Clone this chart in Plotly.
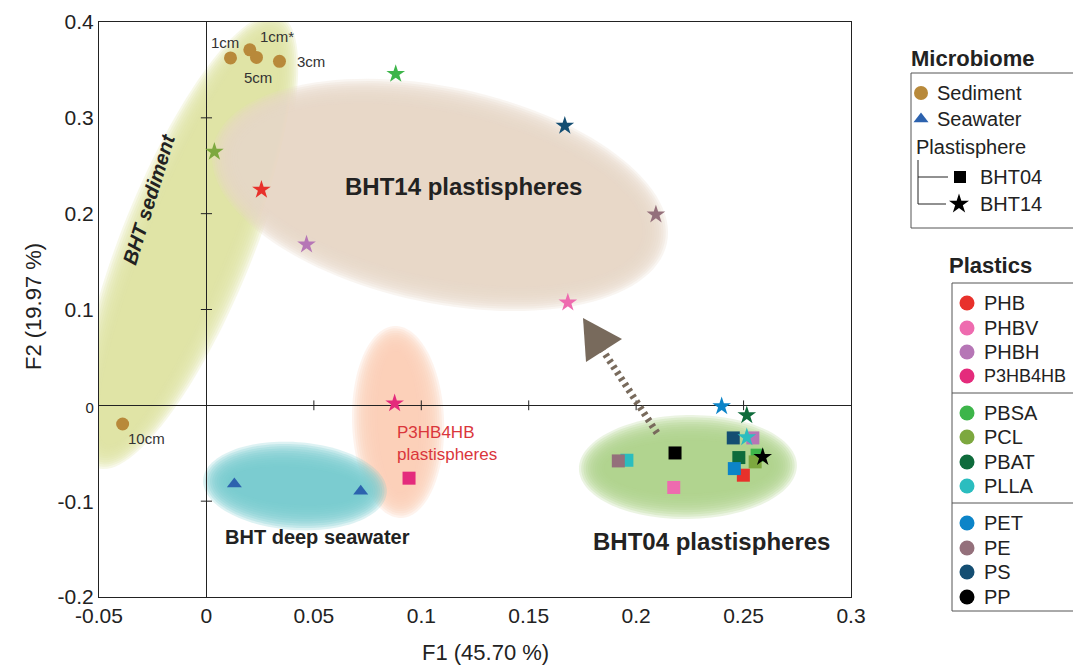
import numpy as np
import plotly.graph_objects as go

W, H = 1073, 669
PX_L, PX_R, PX_T, PX_B = 99, 851, 22, 597
X_RANGE = [-0.05, 0.3]
Y_RANGE = [-0.2, 0.4]
SX = (PX_R - PX_L) / (X_RANGE[1] - X_RANGE[0])
SY = (PX_B - PX_T) / (Y_RANGE[1] - Y_RANGE[0])
FONT = "Arial, Liberation Sans, Helvetica, sans-serif"

# ---------------- data ----------------
x_tick_vals = [-0.05, 0, 0.05, 0.1, 0.15, 0.2, 0.25, 0.3]
x_tick_text = ["-0.05", "0", "0.05", "0.1", "0.15", "0.2", "0.25", "0.3"]
y_tick_vals = [-0.2, -0.1, 0, 0.1, 0.2, 0.3, 0.4]
y_tick_text = ["-0.2", "-0.1", "<span style='font-size:15px'>0</span>", "0.1", "0.2", "0.3", "0.4"]

sediment_labels = ["1cm", "1cm*", "5cm", "3cm", "10cm"]
sediment_f1 = [0.0112, 0.0202, 0.0233, 0.0340, -0.0390]
sediment_f2 = [0.3625, 0.3710, 0.3630, 0.3590, -0.0195]

seawater_f1 = [0.0130, 0.0718]
seawater_f2 = [-0.0820, -0.0896]

plastics = ["PHB", "PHBV", "PHBH", "P3HB4HB", "PBSA", "PCL", "PBAT", "PLLA",
            "PET", "PE", "PS", "PP"]
plastic_colors = ["#E8312B", "#EE6BAF", "#B676B6", "#E42B7C", "#3DB54A", "#7DA83F",
                  "#0E6B3B", "#2BBDBF", "#0C84C8", "#94707B", "#144E72", "#000000"]

# BHT14 plastispheres (stars), aligned with `plastics`
bht14_f1 = [0.0256, 0.1682, 0.0466, 0.0876, 0.0881, 0.0037, 0.2515, 0.2515,
            0.2398, 0.2092, 0.1668, 0.2589]
bht14_f2 = [0.2250, 0.1073, 0.1677, 0.0020, 0.3458, 0.2646, -0.0104, -0.0333,
            -0.0010, 0.1990, 0.2917, -0.0539]

# BHT04 plastispheres (squares), aligned with `plastics`
bht04_f1 = [0.2499, 0.2175, 0.2543, 0.0943, 0.2563, 0.2554, 0.2478, 0.1957,
            0.2457, 0.1917, 0.2452, 0.2181]
bht04_f2 = [-0.0729, -0.0857, -0.0340, -0.0760, -0.0520, -0.0590, -0.0545, -0.0573,
            -0.0660, -0.0580, -0.0340, -0.0497]
bht04_draw_order = ["PLLA", "PE", "PP", "PHBV", "PS", "PHBH", "PBSA", "PCL",
                    "PBAT", "PHB", "PET", "P3HB4HB"]

SED_COLOR = "#B8893A"
SEA_COLOR = "#2C62AE"

# ---------------- figure ----------------
fig = go.Figure()

# group hulls (soft-edged ellipses): center (data), semi-axes (px), angle (deg), colour
hulls = [
    dict(cx=-0.0085, cy=0.1710, a=244, b=66, ang=68, rgb=(225, 229, 163)),
    dict(cx=0.1087, cy=0.2195, a=232, b=108, ang=-12, rgb=(233, 216, 199)),
    dict(cx=0.0892, cy=-0.0174, a=96, b=46, ang=92, rgb=(250, 206, 182)),
    dict(cx=0.0412, cy=-0.0842, a=92, b=44, ang=-4, rgb=(118, 204, 206)),
    dict(cx=0.2241, cy=-0.0644, a=109, b=52, ang=1, rgb=(176, 213, 138)),
]


def ellipse_path(cx, cy, a, b, ang, n=120):
    t = np.linspace(0, 2 * np.pi, n, endpoint=False)
    ca, sa = np.cos(np.radians(ang)), np.sin(np.radians(ang))
    dx, dy = a * np.cos(t), b * np.sin(t)
    px = dx * ca - dy * sa
    py = dx * sa + dy * ca
    xs = cx + px / SX
    ys = cy + py / SY
    return "M " + " L ".join(f"{x:.6f},{y:.6f}" for x, y in zip(xs, ys)) + " Z"


shapes = []
N_LAYERS, STEP, ALPHA = 12, 2.3, 0.25
for h in hulls:
    r, g, b_ = h["rgb"]
    for k in range(N_LAYERS):
        shapes.append(dict(
            type="path", xref="x", yref="y", layer="below",
            path=ellipse_path(h["cx"], h["cy"], h["a"] - k * STEP, h["b"] - k * STEP, h["ang"]),
            fillcolor=f"rgba({r},{g},{b_},{ALPHA})", line=dict(width=0)))

# tick marks on the zero lines
fig.add_trace(go.Scatter(
    x=[0.05, 0.1, 0.15, 0.2, 0.25], y=[0] * 5, mode="markers",
    marker=dict(symbol="line-ns", size=7, line=dict(color="#222", width=1)),
    hoverinfo="skip", showlegend=False))
fig.add_trace(go.Scatter(
    x=[0] * 4, y=[-0.1, 0.1, 0.2, 0.3], mode="markers",
    marker=dict(symbol="line-ew", size=8, line=dict(color="#222", width=1)),
    hoverinfo="skip", showlegend=False))

# sediment
fig.add_trace(go.Scatter(
    x=sediment_f1, y=sediment_f2, mode="markers",
    marker=dict(symbol="circle", size=13, color=SED_COLOR, opacity=1, line=dict(width=0)),
    hoverinfo="skip", showlegend=False))
# seawater
fig.add_trace(go.Scatter(
    x=seawater_f1, y=seawater_f2, mode="markers",
    marker=dict(symbol="triangle-up", size=13, color=SEA_COLOR, opacity=1, line=dict(width=0)),
    hoverinfo="skip", showlegend=False))

# BHT04 squares
idx = [plastics.index(p) for p in bht04_draw_order]
fig.add_trace(go.Scatter(
    x=[bht04_f1[i] for i in idx], y=[bht04_f2[i] for i in idx], mode="markers",
    marker=dict(symbol="square", size=13, color=[plastic_colors[i] for i in idx],
                opacity=1, line=dict(width=0)),
    hoverinfo="skip", showlegend=False))
# BHT14 stars
fig.add_trace(go.Scatter(
    x=bht14_f1, y=bht14_f2, mode="markers",
    marker=dict(symbol="star", size=14, color=plastic_colors, opacity=1, line=dict(width=0)),
    hoverinfo="skip", showlegend=False))

annotations = []

# sediment depth labels (offsets in px)
sed_label_style = {
    "1cm": dict(xshift=-5, yshift=15, xanchor="center"),
    "1cm*": dict(xshift=8, yshift=13, xanchor="left"),
    "5cm": dict(xshift=2, yshift=-20, xanchor="center"),
    "3cm": dict(xshift=16, yshift=0, xanchor="left"),
    "10cm": dict(xshift=3, yshift=-14, xanchor="left"),
}
for lab, fx, fy in zip(sediment_labels, sediment_f1, sediment_f2):
    st = sed_label_style[lab]
    annotations.append(dict(x=fx, y=fy, xref="x", yref="y", text=lab, showarrow=False,
                            xanchor=st["xanchor"], yanchor="middle",
                            xshift=st["xshift"], yshift=st["yshift"],
                            font=dict(family=FONT, size=15, color="#333")))


def pix_ann(x, y, text, size, color="#222", bold=False, italic=False, angle=0,
            xanchor="center", yanchor="middle", align="center"):
    t = text
    if bold:
        t = f"<b>{t}</b>"
    if italic:
        t = f"<i>{t}</i>"
    annotations.append(dict(x=x, y=y, xref="x2", yref="y2", text=t, showarrow=False,
                            textangle=angle, xanchor=xanchor, yanchor=yanchor, align=align,
                            font=dict(family=FONT, size=size, color=color)))


# group labels
pix_ann(463, 186, "BHT14 plastispheres", 24, bold=True)
pix_ann(711, 541, "BHT04 plastispheres", 24, bold=True)
pix_ann(317, 537, "BHT deep seawater", 20, bold=True)
pix_ann(149, 199, "BHT sediment", 20, bold=True, italic=True, angle=-73)
pix_ann(395, 443, "P3HB4HB<br>plastispheres", 17, color="#DA363B", xanchor="left", align="left")

# axis titles
pix_ann(485, 652, "F1 (45.70 %)", 22)
pix_ann(33, 307, "F2 (19.97 %)", 22, angle=-90)

# arrow (dashed shaft + head)
ARROW = "rgb(120,106,92)"
shapes.append(dict(type="line", xref="x2", yref="y2", x0=657, y0=433, x1=600, y1=346,
                   line=dict(color=ARROW, width=7, dash="3px,4px"), layer="above"))
shapes.append(dict(type="path", xref="x2", yref="y2", layer="above",
                   path="M 583,318 L 622,339 L 586,362 Z", fillcolor=ARROW,
                   line=dict(width=0)))

# ---------------- legends ----------------
pix_ann(972, 58, "Microbiome", 22, bold=True)
shapes.append(dict(type="rect", xref="x2", yref="y2", x0=911, y0=73, x1=1085, y1=228,
                   line=dict(color="#555", width=1), fillcolor="rgba(0,0,0,0)"))
pix_ann(935, 93, "Sediment", 20, xanchor="left")
pix_ann(935, 119, "Seawater", 20, xanchor="left")
pix_ann(914, 147, "Plastisphere", 20, xanchor="left")
pix_ann(978, 177, "BHT04", 20, xanchor="left")
pix_ann(978, 204, "BHT14", 20, xanchor="left")
for (x0, y0, x1, y1) in [(918, 160, 918, 204), (918, 177, 948, 177), (918, 204, 946, 204)]:
    shapes.append(dict(type="line", xref="x2", yref="y2", x0=x0, y0=y0, x1=x1, y1=y1,
                       line=dict(color="#222", width=1)))

pix_ann(990, 265, "Plastics", 22, bold=True)
shapes.append(dict(type="rect", xref="x2", yref="y2", x0=952, y0=283, x1=1085, y1=611,
                   line=dict(color="#555", width=1), fillcolor="rgba(0,0,0,0)"))
for yy in (393, 503):
    shapes.append(dict(type="line", xref="x2", yref="y2", x0=952, y0=yy, x1=1085, y1=yy,
                       line=dict(color="#555", width=1)))
legend_rows_y = [303, 328, 352, 376, 413, 437, 462, 486, 523, 548, 572, 597]
for p, yy in zip(plastics, legend_rows_y):
    pix_ann(982, yy, p, 18 if p == "P3HB4HB" else 20, xanchor="left")

fig.add_trace(go.Scatter(
    x=[921, 921, 960, 959] + [967] * len(plastics),
    y=[93, 119, 177, 204] + legend_rows_y,
    xaxis="x2", yaxis="y2", mode="markers", cliponaxis=False,
    marker=dict(symbol=["circle", "triangle-up", "square", "star"] + ["circle"] * len(plastics),
                size=[14, 13, 12, 15] + [15] * len(plastics),
                color=[SED_COLOR, SEA_COLOR, "#000", "#000"] + plastic_colors,
                opacity=1, line=dict(width=0)),
    hoverinfo="skip", showlegend=False))

fig.update_layout(
    template="none",
    width=W, height=H, autosize=False,
    margin=dict(l=0, r=0, t=0, b=0, pad=0),
    paper_bgcolor="white", plot_bgcolor="rgba(0,0,0,0)",
    showlegend=False, hovermode=False,
    font=dict(family=FONT, color="#222"),
    xaxis=dict(domain=[PX_L / W, PX_R / W], range=X_RANGE, showgrid=False,
               zeroline=True, zerolinecolor="#222", zerolinewidth=1,
               showline=True, mirror=True, linecolor="#222", linewidth=1,
               ticks="", tickmode="array", tickvals=x_tick_vals, ticktext=x_tick_text,
               tickfont=dict(family=FONT, size=21, color="#222"), automargin=False),
    yaxis=dict(domain=[1 - PX_B / H, 1 - PX_T / H], range=Y_RANGE, showgrid=False,
               zeroline=True, zerolinecolor="#222", zerolinewidth=1,
               showline=True, mirror=True, linecolor="#222", linewidth=1,
               ticks="", tickmode="array", tickvals=y_tick_vals, ticktext=y_tick_text,
               tickfont=dict(family=FONT, size=21, color="#222"), automargin=False),
    xaxis2=dict(domain=[0, 1], range=[0, W], visible=False, anchor="y2", fixedrange=True),
    yaxis2=dict(domain=[0, 1], range=[H, 0], visible=False, anchor="x2", fixedrange=True),
    shapes=shapes, annotations=annotations,
)

fig.write_html("out.html")
